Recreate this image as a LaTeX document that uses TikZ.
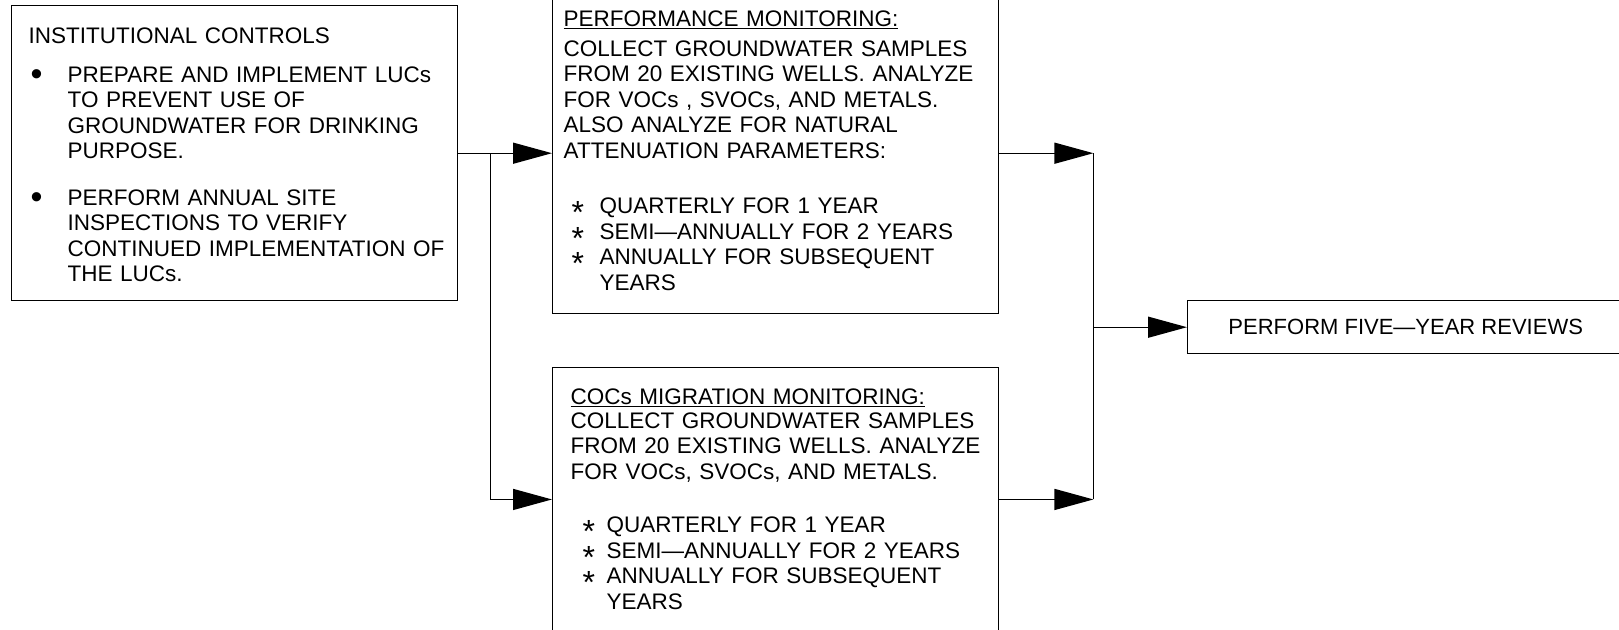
\documentclass[tikz,border=0pt]{standalone}
\usepackage{fontspec}
\setmainfont{Liberation Sans}
\usetikzlibrary{arrows.meta}

\newcommand{\dotmark}{\hspace*{2pt}\makebox[37pt][l]{\smash{\raisebox{-3.5pt}{\fontsize{34}{34}\selectfont •}}}}
\newcommand{\skipin}[1]{\hspace*{#1}}
\newcommand{\starmark}[1]{\hspace*{#1}\makebox[\dimexpr36pt-#1\relax][l]{\smash{\raisebox{-10pt}{\fontsize{32}{32}\selectfont *}}}}

\begin{document}
\begin{tikzpicture}[x=1pt, y=-1pt, line width=1.4pt,
    >={Triangle[length=39pt, width=21pt]},
    box/.style={draw, anchor=north west, align=left, minimum width=446pt, text width=438pt, inner xsep=4pt,
        font=\fontsize{22.5}{25.5}\selectfont},
    plainbox/.style={draw, anchor=north west, font=\fontsize{22}{25.5}\selectfont}]
    \useasboundingbox (0,0) rectangle (1619,629);
    \clip (0,0) rectangle (1619,629);

    % Institutional controls
    \node[box, minimum height=295pt] (luc) at (11,5) {\leftskip=13pt
        INSTITUTIONAL CONTROLS\\[13pt]
        \dotmark PREPARE AND IMPLEMENT LUCs\\
        \skipin{39pt}TO PREVENT USE OF\\
        \skipin{39pt}GROUNDWATER FOR DRINKING\\
        \skipin{39pt}PURPOSE.\\[21pt]
        \dotmark PERFORM ANNUAL SITE\\
        \skipin{39pt}INSPECTIONS TO VERIFY\\
        \skipin{39pt}CONTINUED IMPLEMENTATION OF\\
        \skipin{39pt}THE LUCs.\par\vspace{-4pt}\hrule height 0pt};

    % Performance monitoring
    \node[box, minimum height=326pt] (perf) at (552,-13) {\leftskip=7pt
        \underline{PERFORMANCE MONITORING:}\\[4pt]
        COLLECT GROUNDWATER SAMPLES\\
        FROM 20 EXISTING WELLS. ANALYZE\\
        FOR VOCs , SVOCs, AND METALS.\\
        ALSO ANALYZE FOR NATURAL\\
        ATTENUATION PARAMETERS:\\[30pt]
        \starmark{8pt}QUARTERLY FOR 1 YEAR\\
        \starmark{8pt}SEMI—ANNUALLY FOR 2 YEARS\\
        \starmark{8pt}ANNUALLY FOR SUBSEQUENT\\
        \skipin{36pt}YEARS\par};

    % COCs migration monitoring
    \node[box, minimum height=264.5pt] (coc) at (552,366.5) {\leftskip=14pt
        \underline{COCs MIGRATION MONITORING:}\\[-2pt]
        COLLECT GROUNDWATER SAMPLES\\
        FROM 20 EXISTING WELLS. ANALYZE\\
        FOR VOCs, SVOCs, AND METALS.\\[28pt]
        \starmark{12pt}QUARTERLY FOR 1 YEAR\\
        \starmark{12pt}SEMI—ANNUALLY FOR 2 YEARS\\
        \starmark{12pt}ANNUALLY FOR SUBSEQUENT\\
        \skipin{36pt}YEARS\par};

    % Five-year reviews
    \node[plainbox, minimum width=436pt, minimum height=53pt] (review) at (1187,300) {PERFORM FIVE—YEAR REVIEWS};

    % Connectors
    \coordinate (split) at ([xshift=32pt]luc.east);
    \coordinate (jtop) at ([xshift=94pt]perf.east |- luc.east);
    \coordinate (jbot) at (jtop |- coc.east);
    \draw[->] (luc.east) -- (luc.east -| perf.west);
    \draw[->] (split) |- (coc.west);
    \draw[->] (perf.east |- jtop) -- (jtop);
    \draw[->] (coc.east) -- (jbot);
    \draw (jtop) -- (jbot);
    \draw[->] (jtop |- review.west) -- (review.west);
\end{tikzpicture}
\end{document}
